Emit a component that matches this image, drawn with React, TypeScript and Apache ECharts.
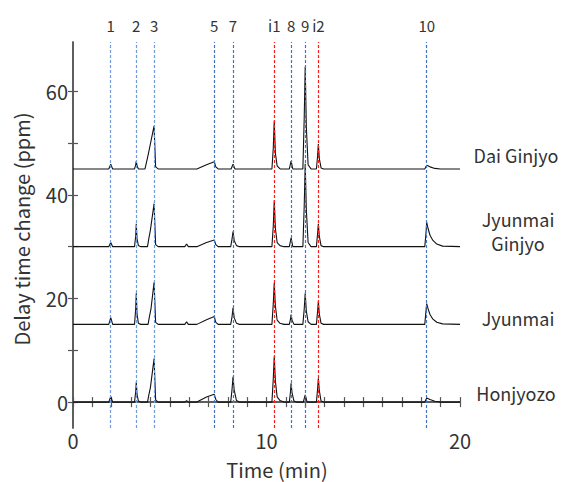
import React, { useEffect, useRef } from "react";
import * as echarts from "echarts";

const FONT = "'Noto Sans CJK JP', 'Noto Sans', sans-serif";

// Marker (retention time) positions, names and colours
const markerTimes = [1.95, 3.27, 4.19, 7.3, 8.27, 10.4, 11.27, 12.0, 12.68, 18.28];
const markerNames = ["1", "2", "3", "5", "7", "i1", "8", "9", "i2", "10"];
const markerColors = ["#6f9be0", "#6f9be0", "#6f9be0", "#3f74c8", "#3f74c8", "#ff1a1a", "#3f74c8", "#3f74c8", "#ff1a1a", "#3f74c8"];

// Sample names (right side labels)
const sampleNames = ["Dai Ginjyo", "Jyunmai\nGinjyo", "Jyunmai", "Honjyozo"];

// Axis ticks
const xTicks = [0, 1, 2, 3, 4, 5, 6, 7, 8, 9, 10, 11, 12, 13, 14, 15, 16, 17, 18, 19, 20];
const xLabels = [0, 10, 20];
const yTicks = [0, 10, 20, 30, 40, 50, 60];
const yLabels = [0, 20, 40, 60];

// Traces [time (min), delay time change (ppm)]
const daiGinjyo: number[][] = [
  [0, 45], [1.85, 45], [1.95, 45.9], [2.05, 45],
  [3.18, 45], [3.24, 45.8], [3.27, 46.5], [3.31, 45.6], [3.38, 45], [3.72, 45],
  [3.8, 46.3], [3.9, 48], [4.19, 53.3], [4.27, 45.4], [4.4, 45],
  [6.4, 45], [6.9, 45.8], [7.3, 46.4], [7.38, 45.4], [7.5, 45],
  [8.17, 45], [8.27, 45.9], [8.37, 45],
  [10.28, 45], [10.35, 49], [10.4, 54.3], [10.46, 48], [10.55, 45.6], [10.7, 45],
  [11.18, 45], [11.27, 46.5], [11.36, 45],
  [11.88, 45], [11.95, 55], [12.0, 64.7], [12.06, 53], [12.15, 45.8], [12.3, 45],
  [12.58, 45], [12.64, 47.5], [12.68, 49.8], [12.73, 47], [12.82, 45.2], [12.95, 45],
  [18.18, 45], [18.28, 45.7], [18.45, 45.4], [18.7, 45.1], [19.0, 45], [20, 45],
];
const jyunmaiGinjyo: number[][] = [
  [0, 30], [1.85, 30], [1.95, 30.8], [2.05, 30],
  [3.18, 30], [3.24, 32], [3.27, 34.4], [3.31, 31.5], [3.38, 30.2], [3.5, 30],
  [3.85, 30], [3.92, 31.6], [4.0, 33.2], [4.19, 38.3], [4.27, 30.4], [4.4, 30],
  [5.78, 30], [5.87, 30.5], [5.96, 30],
  [6.4, 30], [6.9, 30.8], [7.3, 31.3], [7.38, 30.4], [7.5, 30],
  [8.15, 30], [8.22, 31.5], [8.27, 32.9], [8.33, 31.2], [8.45, 30.2], [8.6, 30],
  [10.28, 30], [10.35, 34], [10.4, 38.9], [10.46, 33.5], [10.55, 30.8], [10.7, 30.2], [10.9, 30],
  [11.18, 30], [11.27, 31.7], [11.36, 30],
  [11.88, 30], [11.95, 38], [12.0, 46], [12.06, 37], [12.15, 30.8], [12.3, 30],
  [12.58, 30], [12.64, 32.5], [12.68, 34.4], [12.73, 32], [12.82, 30.2], [12.95, 30],
  [18.18, 30], [18.24, 32.5], [18.28, 34.7], [18.35, 33.5], [18.45, 32.2], [18.6, 31.2], [18.8, 30.5], [19.1, 30.1], [20, 30],
];
const jyunmai: number[][] = [
  [0, 15], [1.85, 15], [1.95, 16.3], [2.05, 15],
  [3.18, 15], [3.24, 18], [3.27, 21], [3.31, 17], [3.38, 15.2], [3.5, 15],
  [3.88, 15], [3.95, 16.5], [4.03, 18], [4.19, 23.1], [4.27, 15.4], [4.4, 15],
  [5.78, 15], [5.87, 15.5], [5.96, 15],
  [6.4, 15], [6.9, 15.9], [7.3, 16.5], [7.38, 15.4], [7.5, 15],
  [8.15, 15], [8.22, 16.5], [8.27, 18.2], [8.33, 16.3], [8.45, 15.2], [8.6, 15],
  [10.28, 15], [10.35, 19], [10.4, 23], [10.46, 18.5], [10.55, 15.8], [10.7, 15.2], [10.9, 15],
  [11.18, 15], [11.24, 16], [11.27, 16.9], [11.32, 15.8], [11.42, 15],
  [11.88, 15], [11.95, 18], [12.0, 21], [12.06, 17.5], [12.15, 15.5], [12.3, 15],
  [12.58, 15], [12.64, 17.5], [12.68, 19.5], [12.73, 17], [12.82, 15.2], [12.95, 15],
  [18.18, 15], [18.24, 17.5], [18.28, 19.0], [18.35, 18.0], [18.45, 16.9], [18.6, 16.0], [18.8, 15.4], [19.1, 15.1], [20, 15],
];
const honjyozo: number[][] = [
  [0, 0], [1.85, 0], [1.95, 1.1], [2.05, 0],
  [3.18, 0], [3.24, 2], [3.27, 3.8], [3.31, 1.5], [3.38, 0.2], [3.5, 0],
  [3.85, 0], [3.92, 1.4], [4.0, 2.8], [4.19, 8.4], [4.27, 0.4], [4.4, 0],
  [5.78, 0], [5.87, 0.3], [5.96, 0],
  [6.4, 0], [6.9, 1.0], [7.3, 1.5], [7.38, 0.5], [7.5, 0],
  [8.15, 0], [8.22, 2.5], [8.27, 4.9], [8.33, 2.3], [8.45, 0.3], [8.6, 0],
  [10.28, 0], [10.35, 4.5], [10.4, 8.8], [10.46, 4], [10.55, 1], [10.7, 0.3], [10.9, 0],
  [11.18, 0], [11.24, 2], [11.27, 3.65], [11.32, 1.8], [11.42, 0.2], [11.55, 0],
  [11.9, 0], [12.0, 1.4], [12.1, 0],
  [12.58, 0], [12.64, 2.5], [12.68, 4.6], [12.73, 2.2], [12.82, 0.2], [12.95, 0],
  [18.18, 0], [18.28, 0.8], [18.45, 0.5], [18.7, 0.15], [19.0, 0], [20, 0],
];
const traces = [daiGinjyo, jyunmaiGinjyo, jyunmai, honjyozo];

export default function App() {
  const ref = useRef<HTMLDivElement>(null);
  useEffect(() => {
    if (!ref.current) return;
    const chart = echarts.init(ref.current, undefined, { renderer: "svg" });
    const axisColor = "#555";
    const textColor = "#333";
    const tickCommon = { inside: true, length: 5, lineStyle: { color: axisColor, width: 1.2 } };
    const option: any = {
      animation: false,
      backgroundColor: "#fff",
      grid: { left: 73, right: 106, top: 42, bottom: 54 },
      xAxis: [
        {
          type: "value", min: 0, max: 20, position: "bottom",
          axisLine: { show: true, lineStyle: { color: axisColor, width: 1.5 } },
          axisTick: { ...tickCommon, customValues: xTicks },
          axisLabel: { customValues: xLabels, color: textColor, fontSize: 20, fontFamily: FONT, margin: 2 },
          splitLine: { show: false },
        },
        {
          type: "value", min: 0, max: 20, position: "top",
          axisLine: { show: true, lineStyle: { color: axisColor, width: 1.5 } },
          axisTick: { ...tickCommon, customValues: xTicks },
          axisLabel: {
            customValues: markerTimes, color: textColor, fontSize: 15, fontFamily: FONT, margin: 9,
            formatter: (v: number) => {
              const i = markerTimes.indexOf(v);
              return i >= 0 ? markerNames[i] : "";
            },
          },
          splitLine: { show: false },
        },
      ],
      yAxis: [
        {
          type: "value", min: -5, max: 69.5, position: "left",
          axisLine: { show: true, lineStyle: { color: axisColor, width: 1.5 } },
          axisTick: { ...tickCommon, customValues: yTicks },
          axisLabel: { customValues: yLabels, color: textColor, fontSize: 20, fontFamily: FONT, margin: 5 },
          splitLine: { show: false },
        },
        {
          type: "value", min: -5, max: 69.5, position: "right",
          axisLine: { show: true, lineStyle: { color: axisColor, width: 1.5 } },
          axisTick: { ...tickCommon, customValues: yTicks },
          axisLabel: { show: false },
          splitLine: { show: false },
        },
      ],
      series: [
        {
          type: "line", data: [], xAxisIndex: 0, yAxisIndex: 0, silent: true,
          markLine: {
            silent: true, symbol: "none", label: { show: false },
            data: markerTimes.map((t, i) => ({
              xAxis: t,
              lineStyle: { color: markerColors[i], type: [3, 2], width: 1.2 },
            })),
          },
        },
        ...traces.map((d, i) => ({
          type: "line",
          name: sampleNames[i],
          data: d,
          xAxisIndex: 0,
          yAxisIndex: 0,
          showSymbol: false,
          symbol: "none",
          lineStyle: { color: "#111", width: 1.1 },
          z: 3,
        })),
      ],
      graphic: [
        {
          type: "text", x: 21, y: 229, rotation: Math.PI / 2,
          style: { text: "Delay time change (ppm)", fontSize: 20, fontFamily: FONT, fill: textColor, align: "center", verticalAlign: "middle" },
        },
        {
          type: "text", x: 277, y: 469,
          style: { text: "Time (min)", fontSize: 20, fontFamily: FONT, fill: textColor, align: "center", verticalAlign: "middle" },
        },
        {
          type: "text", x: 516, y: 155,
          style: { text: sampleNames[0], fontSize: 18, fontFamily: FONT, fill: textColor, align: "center", verticalAlign: "middle" },
        },
        {
          type: "text", x: 518, y: 231,
          style: { text: sampleNames[1], fontSize: 18, lineHeight: 24, fontFamily: FONT, fill: textColor, align: "center", verticalAlign: "middle" },
        },
        {
          type: "text", x: 518, y: 318,
          style: { text: sampleNames[2], fontSize: 18, fontFamily: FONT, fill: textColor, align: "center", verticalAlign: "middle" },
        },
        {
          type: "text", x: 516, y: 393,
          style: { text: sampleNames[3], fontSize: 18, fontFamily: FONT, fill: textColor, align: "center", verticalAlign: "middle" },
        },
      ],
    };
    chart.setOption(option);
    return () => chart.dispose();
  }, []);
  return (
    <div
      ref={ref}
      style={{ position: "fixed", left: 0, top: 0, width: 566, height: 482, background: "#fff" }}
    />
  );
}
